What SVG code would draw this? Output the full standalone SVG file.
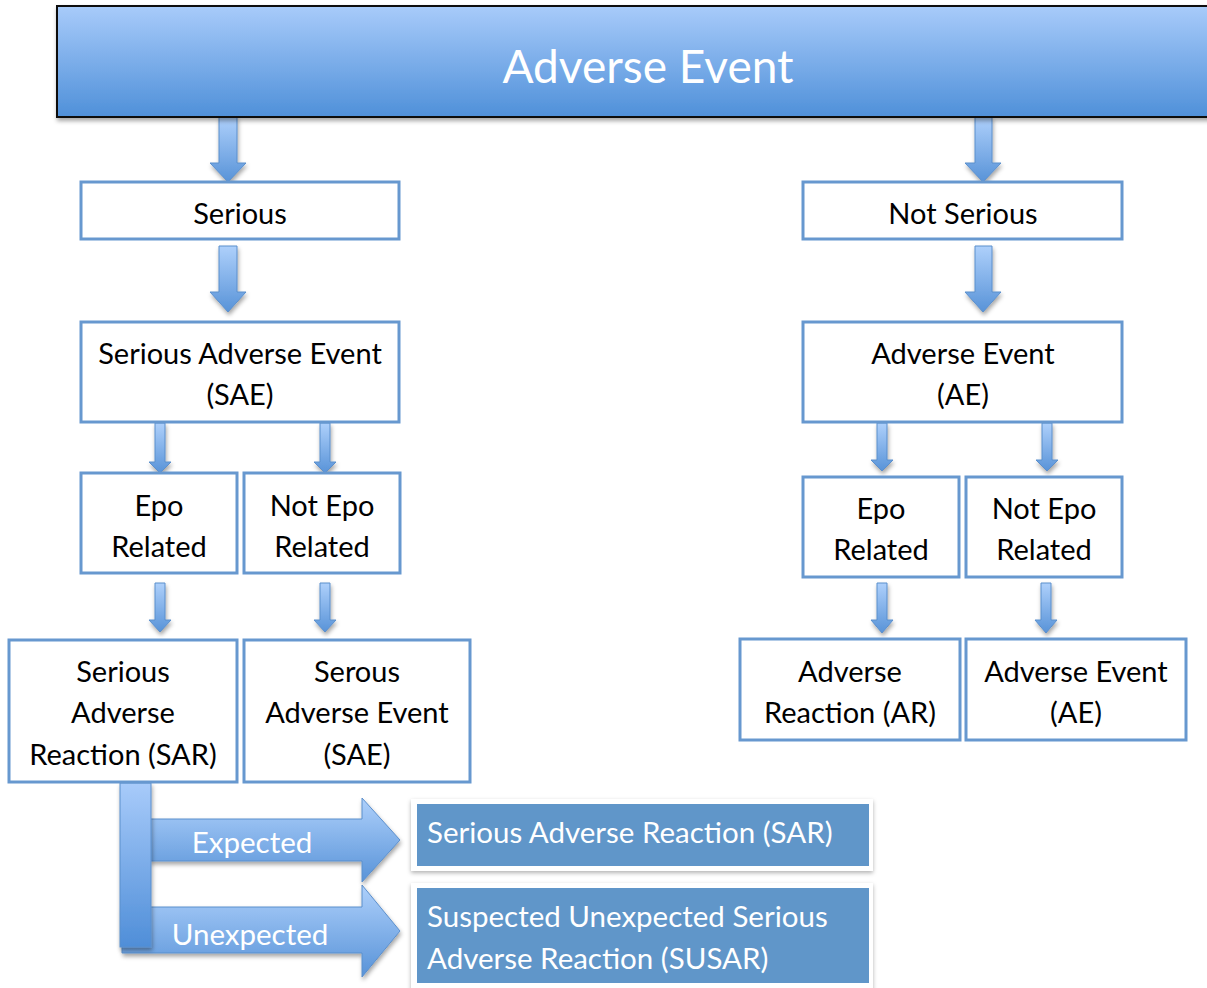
<svg xmlns="http://www.w3.org/2000/svg" width="1207" height="988" viewBox="0 0 1207 988">
<defs>
<linearGradient id="gTop" x1="0" y1="0" x2="0" y2="1">
<stop offset="0" stop-color="#a8cbfa"/><stop offset="1" stop-color="#4f90d9"/>
</linearGradient>
<linearGradient id="gArr" x1="0" y1="0" x2="0" y2="1">
<stop offset="0" stop-color="#aed0fb"/><stop offset="1" stop-color="#5893d8"/>
</linearGradient>
<linearGradient id="gBar" x1="0" y1="0" x2="0" y2="1">
<stop offset="0" stop-color="#a8cbfa"/><stop offset="1" stop-color="#4f8ed8"/>
</linearGradient>
<filter id="sh" x="-10%" y="-10%" width="130%" height="140%">
<feDropShadow dx="1" dy="3" stdDeviation="2" flood-color="#000" flood-opacity="0.35"/>
</filter>
<filter id="sh2" x="-10%" y="-10%" width="130%" height="140%">
<feDropShadow dx="0" dy="2" stdDeviation="2" flood-color="#000" flood-opacity="0.3"/>
</filter>
</defs>
<style>
.box{fill:#fff;stroke:#6798cf;stroke-width:3}
.t{font-family:Lato,"Liberation Sans",sans-serif;font-size:29px;fill:#000;text-anchor:middle}
.w{font-family:Lato,"Liberation Sans",sans-serif;font-size:29.5px;fill:#fff}
.arr{fill:url(#gArr);stroke:#5b8fcc;stroke-width:1}
.out{fill:#fff;filter:url(#sh2)}
.in{fill:#6096c9}
</style>
<rect width="1207" height="988" fill="#fff"/>

<g id="connectors">
<path class="arr" filter="url(#sh)" d="M219,117 H237 V163 H246 L228,182 L210,163 H219 Z"/>
<path class="arr" filter="url(#sh)" d="M975,117 H992 V163 H1001 L983,182 L965,163 H975 Z"/>
<path class="arr" filter="url(#sh)" d="M219,246 H237 V292 H246 L228,312 L210,292 H219 Z"/>
<path class="arr" filter="url(#sh)" d="M975,246 H992 V292 H1001 L983,312 L965,292 H975 Z"/>
<path class="arr" filter="url(#sh)" d="M155,423 H165 V462 H171 L160,473 L149,462 H155 Z"/>
<path class="arr" filter="url(#sh)" d="M320,423 H330 V462 H336 L325,473 L314,462 H320 Z"/>
<path class="arr" filter="url(#sh)" d="M877,423 H887 V460 H893 L882,471 L871,460 H877 Z"/>
<path class="arr" filter="url(#sh)" d="M1042,423 H1052 V460 H1058 L1047,471 L1036,460 H1042 Z"/>
<path class="arr" filter="url(#sh)" d="M155,583 H165 V620 H171 L160,632 L149,620 H155 Z"/>
<path class="arr" filter="url(#sh)" d="M320,583 H330 V620 H336 L325,632 L314,620 H320 Z"/>
<path class="arr" filter="url(#sh)" d="M877,583 H887 V620 H893 L882,633 L871,620 H877 Z"/>
<path class="arr" filter="url(#sh)" d="M1041,583 H1051 V620 H1057 L1046,633 L1035,620 H1041 Z"/>
<path class="arr" filter="url(#sh)" d="M122,907 H362 V885 L400,931 L362,977 V953 H122 Z"/>
<path class="arr" filter="url(#sh)" d="M150,819 H362 V798 L400,840 L362,882 V861 H150 Z"/>
<rect x="120" y="783" width="31" height="164" fill="url(#gBar)" stroke="#5b8fcc" stroke-width="1" filter="url(#sh)"/>
<text class="w" x="252" y="853" text-anchor="middle">Expected</text>
<text class="w" x="250" y="945" text-anchor="middle">Unexpected</text>
</g>

<g id="top">
<rect x="57" y="6" width="1160" height="111" fill="url(#gTop)" stroke="#111" stroke-width="2" filter="url(#sh)"/>
<text x="648" y="83" font-family="Lato,'Liberation Sans',sans-serif" font-size="46" fill="#fff" text-anchor="middle">Adverse Event</text>
</g>

<g id="serious"><rect class="box" x="81" y="182" width="318" height="57"/><text class="t" x="240" y="224">Serious</text></g>
<g id="notserious"><rect class="box" x="803" y="182" width="319" height="57"/><text class="t" x="963" y="224">Not Serious</text></g>

<g id="sae"><rect class="box" x="81" y="322" width="318" height="100"/><text class="t" x="240" y="364">Serious Adverse Event</text><text class="t" x="240" y="405">(SAE)</text></g>
<g id="ae"><rect class="box" x="803" y="322" width="319" height="100"/><text class="t" x="963" y="364">Adverse Event</text><text class="t" x="963" y="405">(AE)</text></g>

<g id="epo1"><rect class="box" x="81" y="473" width="156" height="100"/><text class="t" x="159" y="516">Epo</text><text class="t" x="159" y="557">Related</text></g>
<g id="notepo1"><rect class="box" x="244" y="473" width="156" height="100"/><text class="t" x="322" y="516">Not Epo</text><text class="t" x="322" y="557">Related</text></g>
<g id="epo2"><rect class="box" x="803" y="477" width="156" height="100"/><text class="t" x="881" y="519">Epo</text><text class="t" x="881" y="560">Related</text></g>
<g id="notepo2"><rect class="box" x="966" y="477" width="156" height="100"/><text class="t" x="1044" y="519">Not Epo</text><text class="t" x="1044" y="560">Related</text></g>

<g id="sar"><rect class="box" x="9" y="640" width="228" height="142"/><text class="t" x="123" y="682">Serious</text><text class="t" x="123" y="723">Adverse</text><text class="t" x="123" y="765">Reaction (SAR)</text></g>
<g id="sae2"><rect class="box" x="244" y="640" width="226" height="142"/><text class="t" x="357" y="682">Serous</text><text class="t" x="357" y="723">Adverse Event</text><text class="t" x="357" y="765">(SAE)</text></g>
<g id="ar"><rect class="box" x="740" y="639" width="220" height="101"/><text class="t" x="850" y="682">Adverse</text><text class="t" x="850" y="723">Reaction (AR)</text></g>
<g id="ae2"><rect class="box" x="966" y="639" width="220" height="101"/><text class="t" x="1076" y="682">Adverse Event</text><text class="t" x="1076" y="723">(AE)</text></g>

<g id="out-sar"><rect class="out" x="411" y="799" width="462" height="72"/><rect class="in" x="417" y="804" width="452" height="62"/><text class="w" x="427" y="843">Serious Adverse Reaction (SAR)</text></g>
<g id="out-susar"><rect class="out" x="411" y="883" width="462" height="110"/><rect class="in" x="417" y="888" width="452" height="95"/><text class="w" x="427" y="927">Suspected Unexpected Serious</text><text class="w" x="427" y="969">Adverse Reaction (SUSAR)</text></g>
</svg>
